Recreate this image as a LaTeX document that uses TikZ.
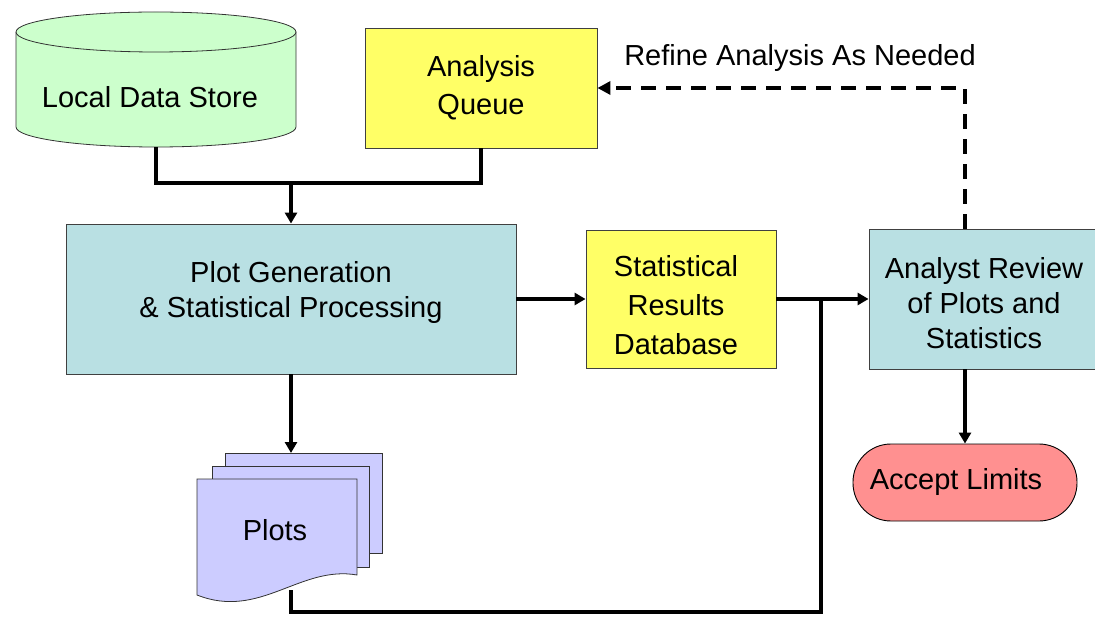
\documentclass[tikz,border=0pt]{standalone}
\usepackage{fontspec}
\setmainfont{Liberation Sans}
\usetikzlibrary{arrows.meta}
\definecolor{storegreen}{HTML}{CCFFCC}
\definecolor{queueyellow}{HTML}{FFFF66}
\definecolor{procblue}{HTML}{B9E0E3}
\definecolor{plotviolet}{HTML}{CCCCFF}
\definecolor{acceptred}{HTML}{FF9090}
\begin{document}
\begin{tikzpicture}[x=1pt,y=-1pt,
  txt/.style={font=\fontsize{29}{35}\selectfont},
  box/.style={draw=black!75, line width=0.9pt, align=center, inner sep=0pt, txt},
  conn/.style={line width=3.6pt},
  flow/.style={conn, -{Triangle[length=11pt,width=12pt]}},
  dflow/.style={conn, dash pattern=on 15pt off 10pt, -{Triangle[length=13pt,width=13pt]}},
  sheet/.style={draw=black!80, line width=0.8pt, fill=plotviolet}]
\useasboundingbox (0,0) rectangle (1095,617);

% cylinder: Local Data Store
\filldraw[fill=storegreen, draw=black!80, line width=0.8pt]
  (16,32) -- (16,127) arc[start angle=180, end angle=0, x radius=140, y radius=20] -- (296,32);
\filldraw[fill=storegreen, draw=black!80, line width=0.8pt]
  (156,32) ellipse[x radius=140, y radius=20];
\node[txt] (store) at (150,97) {Local Data Store};
\coordinate (storebot) at (156,147);

% boxes
\node[box, fill=queueyellow, minimum width=232, minimum height=120,
      font=\fontsize{29}{38}\selectfont] (queue) at (481,88) {Analysis\\Queue};
\node[box, fill=procblue, minimum width=450, minimum height=150,
      label={[txt, align=center, yshift=6pt]center:Plot Generation\\\& Statistical Processing}]
      (proc) at (291,299) {};
\node[box, fill=queueyellow, minimum width=190, minimum height=138,
      label={[font=\fontsize{29}{39}\selectfont, align=center, yshift=-6pt, xshift=-5pt]center:Statistical\\Results\\Database}]
      (stats) at (681,299) {};
\node[box, fill=procblue, minimum width=230, minimum height=140,
      label={[txt, align=center, yshift=-4pt]center:Analyst Review\\of Plots and\\Statistics}]
      (review) at (984,299) {};
\node[box, draw=black, fill=acceptred, minimum width=224, minimum height=77,
      rounded corners=38pt] (accept) at (965,482.5) {\hspace*{-18pt}Accept Limits};

% plots (stacked documents)
\draw[sheet] (225,453) rectangle (382,553);
\draw[sheet] (212,466) rectangle (369,567);
\draw[sheet] (197,479) -- (357,479) -- (357,575)
  .. controls (300,565) and (260,620) .. (197,595) -- cycle;
\node[txt] (plots) at (275,530) {Plots};
\coordinate (plotstop) at (291,453);
\coordinate (plotsbot) at (291,590);

% junctions
\coordinate (merge) at (291,183);
\coordinate (bottomrun) at (821,612);
\coordinate (join) at (821,299);
\coordinate (turn) at (965,88);

% connectors
\draw[conn] (storebot) |- (merge) -| (queue.south);
\draw[flow] (merge) -- (proc.north);
\draw[flow] (proc.south) -- (plotstop);
\draw[flow] (proc.east) -- (stats.west);
\draw[flow] (stats.east) -- (review.west);
\draw[conn] (plotsbot) |- (bottomrun) -- (join);
\draw[flow] (accept.north |- review.south) -- (accept.north);
\draw[dflow] (review.north -| turn) -- (turn) -- (queue.east);

\node[txt] (refine) at (800,58) {Refine Analysis As Needed};
\end{tikzpicture}
\end{document}
